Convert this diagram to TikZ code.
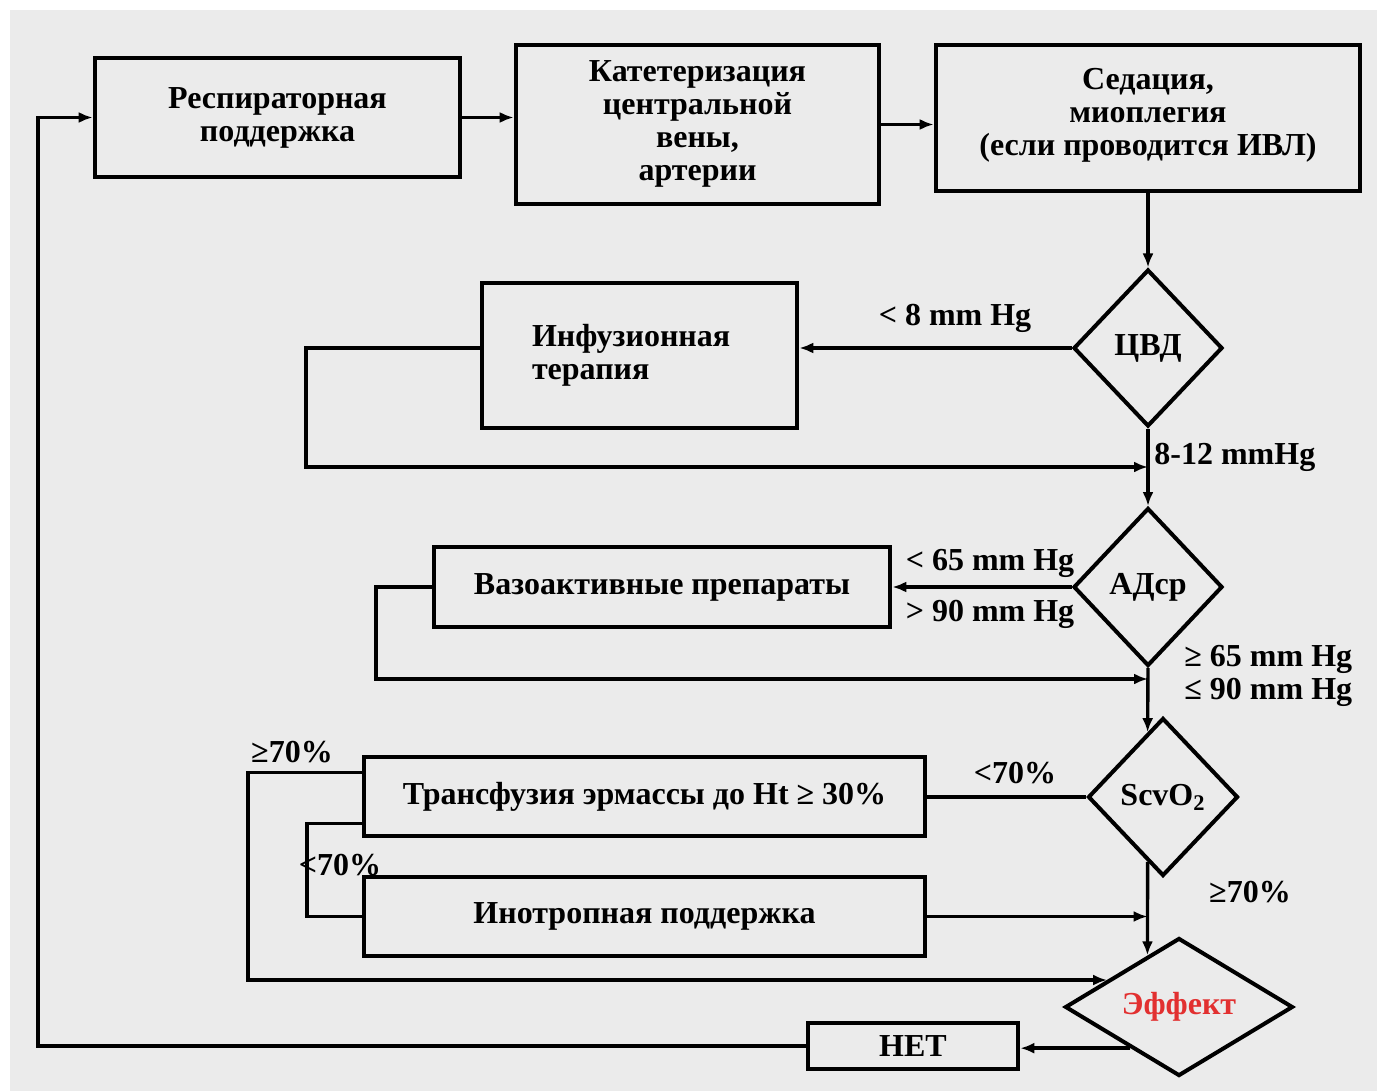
\documentclass[tikz,border=0pt]{standalone}
\usepackage{fontspec}
\setmainfont{Liberation Serif}
\usetikzlibrary{shapes.geometric, arrows.meta, calc}
\definecolor{bgfill}{RGB}{235,235,235}
\definecolor{effred}{RGB}{226,48,48}
\tikzset{
	box/.style={shape=rectangle, draw, line width=2.3pt, align=center, inner sep=0pt, font=\fontsize{16pt}{16.5pt}\selectfont\bfseries},
	rhomb/.style={shape=diamond, draw, line width=2pt, inner sep=0pt, font=\fontsize{16pt}{16.5pt}\selectfont\bfseries},
	wire/.style={line width=1.7pt},
	arr/.style={wire, -{Latex[length=7pt, width=5.5pt]}},
	lbl/.style={inner sep=0pt, align=left, font=\fontsize{16pt}{16.5pt}\selectfont\bfseries},
}

\begin{document}
\begin{tikzpicture}[x=0.5pt, y=-0.5pt]
	% Background and frame:
	\fill[white] (0,0) rectangle (1377,1091);
	\fill[bgfill] (10,10) rectangle (1377,1091);
	\useasboundingbox (0,0) rectangle (1377,1091);
	% Boxes and decisions:
	\node[box, minimum width=182.5pt, minimum height=59.5pt] (resp) at (277.5, 117.5) {Респираторная\\поддержка};
	\node[box, minimum width=181.5pt, minimum height=79.5pt, text depth=4pt] (cath) at (697.5, 124.5) {Катетеризация\\центральной\\вены,\\артерии};
	\node[box, minimum width=212pt, minimum height=73pt, text depth=6pt] (sed) at (1148, 118) {Седация,\\миоплегия\\(если проводится ИВЛ)};
	\node[rhomb, minimum width=74.5pt, minimum height=78.5pt] (cvd) at (1148, 348) {ЦВД};
	\node[box, minimum width=157.5pt, minimum height=72.5pt, text width=107.5pt, inner xsep=25pt, align=left] (inf) at (639.5, 355.5) {Инфузионная\\терапия};
	\node[rhomb, minimum width=74.5pt, minimum height=79pt] (ad) at (1148, 587) {АДср};
	\node[box, minimum width=228pt, minimum height=40pt] (vaso) at (662, 587) {Вазоактивные препараты};
	\node[rhomb, minimum width=75pt, minimum height=79pt] (scv) at (1163, 797) {ScvO\textsubscript{2}};
	\node[box, minimum width=280.5pt, minimum height=39.5pt] (tr) at (644.5, 796.5) {Трансфузия эрмассы до Ht ≥ 30\%};
	\node[box, minimum width=280.5pt, minimum height=39.5pt] (ino) at (644.5, 916.5) {Инотропная поддержка};
	\node[rhomb, shape aspect=2, minimum width=114pt, minimum height=69pt, text=effred] (effect) at (1179, 1007) {Эффект};
	\node[box, minimum width=105pt, minimum height=23pt] (net) at (913, 1046) {НЕТ};
	% Points on the diamond edges and bends:
	\coordinate (scvin) at ($(scv.west)!0.8!(scv.north)$);
	\coordinate (scvout) at ($(scv.west)!0.8!(scv.south)$);
	\coordinate (effin1) at ($(effect.west)!0.728!(effect.north)$);
	\coordinate (effin2) at ($(effect.west)!0.38!(effect.north)$);
	\coordinate (effout) at ($(effect.west)!0.58!(effect.south)$);
	\coordinate (c1) at (306, 467);
	\coordinate (c2) at (376, 679);
	\coordinate (k1) at (248, 900);
	\coordinate (k2) at (307, 870);
	\coordinate (k3) at (38, 600);
	% Wires:
	\draw[arr] (resp.east) -- (resp.east -| cath.west);
	\draw[arr] (cath.east) -- (cath.east -| sed.west);
	\draw[arr] (sed.south) -- (cvd.north);
	\draw[arr] (cvd.west) -- (cvd.west -| inf.east);
	\draw[arr] (inf.west |- cvd.west) -| (c1) -- (c1 -| cvd.south);
	\draw[arr] (cvd.south) -- (ad.north);
	\draw[arr] (ad.west) -- (vaso.east);
	\draw[arr] (vaso.west) -| (c2) -- (c2 -| ad.south);
	\draw[arr] (ad.south) -- (scvin);
	\draw[wire] (scv.west) -- (tr.east |- scv.west);
	\draw[arr] ([yshift=12pt]tr.west) -| (k1) |- (effin2);
	\draw[wire] ([yshift=-13.5pt]tr.west) -| (k2) |- (ino.west);
	\draw[arr] (ino.east) -- (ino.east -| scvin);
	\draw[arr] (scvout) -- (effin1);
	\draw[arr] (effout) -- (effout -| net.east);
	\draw[arr] (net.west) -| (k3) |- (resp.west);
	% Labels:
	\node[lbl] (l1) at (955, 318) {< 8 mm Hg};
	\node[lbl, anchor=west] (l2) at (1154, 457) {8-12 mmHg};
	\node[lbl] (l3) at (990, 563) {< 65 mm Hg};
	\node[lbl] (l4) at (990, 614) {> 90 mm Hg};
	\node[lbl, anchor=west] (l5) at (1184, 676) {≥ 65 mm Hg\\≤ 90 mm Hg};
	\node[lbl] (l6) at (1015, 773) {<70\%};
	\node[lbl] (l7) at (292, 752) {≥70\%};
	\node[lbl] (l8) at (340, 865) {<70\%};
	\node[lbl] (l9) at (1250, 892) {≥70\%};
\end{tikzpicture}
\end{document}
